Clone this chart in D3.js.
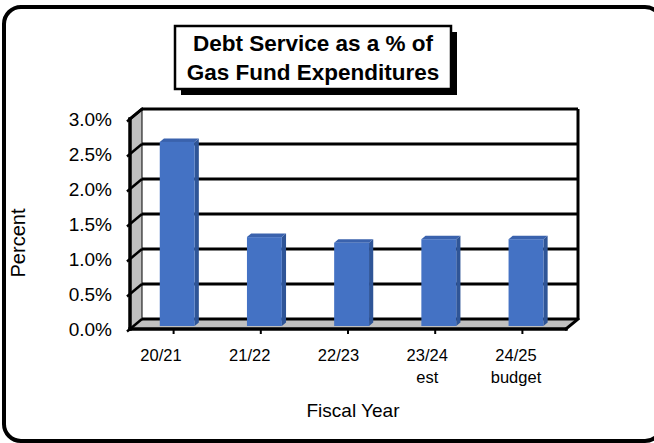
<!DOCTYPE html>
<html>
<head>
<meta charset="utf-8">
<script src="https://cdn.jsdelivr.net/npm/d3@7"></script>
<style>
  html, body { margin: 0; padding: 0; background: #fff; }
  svg { display: block; font-family: "Liberation Sans", Arial, sans-serif; }
</style>
</head>
<body>
<svg id="chart" width="654" height="443"></svg>
<script>
// Fiscal-year categories (two-line labels) and debt service share of expenditures
const categories = ["20/21", "21/22", "22/23", "23/24 est", "24/25 budget"];
const labelLines = [["20/21"], ["21/22"], ["22/23"], ["23/24", "est"], ["24/25", "budget"]];
const values = [0.0263, 0.0127, 0.0119, 0.0124, 0.0124];
const yTicks = [0, 0.005, 0.01, 0.015, 0.02, 0.025, 0.03];
const titleLines = ["Debt Service as a % of", "Gas Fund Expenditures"];
const xTitle = "Fiscal Year";
const yTitle = "Percent";

const svg = d3.select("#chart");

// Outer rounded frame (runs past the right edge of the canvas)
svg.append("rect")
  .attr("x", 4).attr("y", 7).attr("width", 658).attr("height", 434)
  .attr("rx", 17).attr("ry", 17)
  .attr("fill", "#fff").attr("stroke", "#000").attr("stroke-width", 4);

// Front plane of the 3-D box; the back wall is shifted by (dx, dy)
const front = { left: 130, right: 566, bottom: 329, top: 119 };
const dx = 12, dy = -10;

const y = d3.scaleLinear().domain([0, 0.03]).range([front.bottom, front.top]);
const x = d3.scaleBand().domain(categories).range([front.left, front.right])
  .paddingInner(0.6).paddingOuter(0.3);
// Category labels sit on a slightly narrower spread under the box
const xLabel = d3.scalePoint().domain(categories).range([161, 516]);

const fmt = d3.format(".1%");

// Back wall
svg.append("rect")
  .attr("x", front.left + dx).attr("y", front.top + dy)
  .attr("width", front.right - front.left).attr("height", front.bottom - front.top)
  .attr("fill", "#fff");

// Side wall (grey)
svg.append("polygon")
  .attr("points", [
    [front.left, front.bottom], [front.left, front.top],
    [front.left + dx, front.top + dy], [front.left + dx, front.bottom + dy]
  ].map(p => p.join(",")).join(" "))
  .attr("fill", "#c0c0c0").attr("stroke", "#000").attr("stroke-width", 1);

// Floor (grey)
svg.append("polygon")
  .attr("points", [
    [front.left, front.bottom], [front.right, front.bottom],
    [front.right + dx, front.bottom + dy], [front.left + dx, front.bottom + dy]
  ].map(p => p.join(",")).join(" "))
  .attr("fill", "#c0c0c0").attr("stroke", "#000").attr("stroke-width", 1);

// Gridlines across the back wall and the side wall
const grid = svg.append("g").attr("stroke", "#000").attr("fill", "none");
grid.selectAll("line.back").data(yTicks).join("line")
  .attr("class", "back")
  .attr("x1", front.left + dx).attr("x2", front.right + dx)
  .attr("y1", d => y(d) + dy).attr("y2", d => y(d) + dy)
  .attr("stroke-width", 3);
grid.selectAll("line.side").data(yTicks).join("line")
  .attr("class", "side")
  .attr("x1", front.left + dx).attr("y1", d => y(d) + dy)
  .attr("x2", front.left - 3).attr("y2", d => y(d) + 2.5)
  .attr("stroke-width", 2.5);

// Back wall right edge
grid.append("line")
  .attr("x1", front.right + dx).attr("x2", front.right + dx)
  .attr("y1", front.top + dy).attr("y2", front.bottom + dy)
  .attr("stroke-width", 3);

// Bars: front face, right side face, top face
const f = 0.3;           // depth position of the bar front face
const bd = 0.35;         // bar depth as a fraction of the box depth
const bars = svg.append("g");
categories.forEach((c, i) => {
  const v = values[i];
  const x0 = x(c) + f * dx, x1 = x0 + x.bandwidth();
  const yt = y(v) + f * dy, yb = y(0) + f * dy;
  const ox = bd * dx, oy = bd * dy;
  bars.append("polygon")
    .attr("points", [[x1, yb], [x1, yt], [x1 + ox, yt + oy], [x1 + ox, yb + oy]].map(p => p.join(",")).join(" "))
    .attr("fill", "#2f5597");
  bars.append("polygon")
    .attr("points", [[x0, yt], [x1, yt], [x1 + ox, yt + oy], [x0 + ox, yt + oy]].map(p => p.join(",")).join(" "))
    .attr("fill", "#3a62ad");
  bars.append("rect")
    .attr("x", x0).attr("y", yt).attr("width", x.bandwidth()).attr("height", yb - yt)
    .attr("fill", "#4472c4");
});

// Front axis lines
const axes = svg.append("g").attr("stroke", "#000").attr("stroke-width", 3.5).attr("fill", "none")
  .attr("stroke-linecap", "square");
axes.append("line")
  .attr("x1", front.left).attr("x2", front.left).attr("y1", front.top).attr("y2", front.bottom);
axes.append("line")
  .attr("x1", front.left).attr("x2", front.right).attr("y1", front.bottom).attr("y2", front.bottom);
axes.append("line")
  .attr("x1", front.left).attr("y1", front.top).attr("x2", front.left + dx).attr("y2", front.top + dy)
  .attr("stroke-width", 3);
axes.append("line")
  .attr("x1", front.right).attr("y1", front.bottom).attr("x2", front.right + dx).attr("y2", front.bottom + dy)
  .attr("stroke-width", 3);

// Category tick marks
svg.append("g").selectAll("line").data(categories).join("line")
  .attr("x1", d => x(d) + x.bandwidth() / 2).attr("x2", d => x(d) + x.bandwidth() / 2)
  .attr("y1", front.bottom).attr("y2", front.bottom + 5)
  .attr("stroke", "#000").attr("stroke-width", 2);

// Y tick labels
svg.append("g").selectAll("text").data(yTicks).join("text")
  .attr("x", 112).attr("y", d => y(d) + 7)
  .attr("text-anchor", "end").attr("font-size", 19).attr("fill", "#000")
  .text(d => fmt(d));

// Category labels
const cat = svg.append("g").selectAll("text").data(categories).join("text")
  .attr("text-anchor", "middle").attr("font-size", 16.5).attr("fill", "#000")
  .attr("transform", d => `translate(${xLabel(d)},0)`);
cat.each(function (d, i) {
  d3.select(this).selectAll("tspan").data(labelLines[i]).join("tspan")
    .attr("x", 0).attr("y", (t, j) => 361 + j * 22).text(t => t);
});

// Axis titles
svg.append("text")
  .attr("x", 353).attr("y", 417).attr("text-anchor", "middle")
  .attr("font-size", 19).text(xTitle);
svg.append("text")
  .attr("transform", "translate(25,243) rotate(-90)")
  .attr("text-anchor", "middle").attr("font-size", 20).text(yTitle);

// Title box with drop shadow
svg.append("rect").attr("x", 181).attr("y", 32).attr("width", 276).attr("height", 63).attr("fill", "#000");
svg.append("rect").attr("x", 175).attr("y", 26).attr("width", 276).attr("height", 63)
  .attr("fill", "#fff").attr("stroke", "#000").attr("stroke-width", 2.5);
svg.append("g").selectAll("text").data(titleLines).join("text")
  .attr("x", 313).attr("y", (d, i) => 51 + i * 29)
  .attr("text-anchor", "middle").attr("font-size", 22.5).attr("font-weight", "bold")
  .text(d => d);
</script>
</body>
</html>
